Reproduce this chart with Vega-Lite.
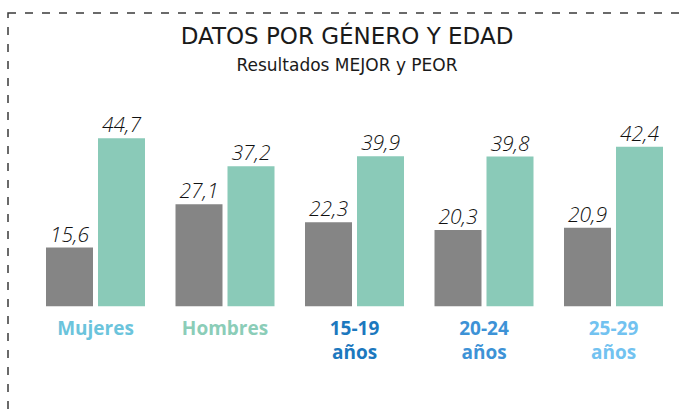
{
  "$schema": "https://vega.github.io/schema/vega-lite/v6.json",
  "width": 678,
  "height": 421,
  "autosize": {"type": "none"},
  "padding": {"left": 8, "top": 13, "right": 0, "bottom": 0},
  "background": "white",
  "title": {
    "text": "DATOS POR GÉNERO Y EDAD",
    "subtitle": "Resultados MEJOR y PEOR",
    "anchor": "middle",
    "offset": -61,
    "font": "DejaVu Sans",
    "fontSize": 23,
    "fontWeight": "normal",
    "color": "#1a1a1a",
    "subtitleFont": "DejaVu Sans",
    "subtitleFontSize": 17,
    "subtitleColor": "#1a1a1a",
    "subtitlePadding": 9
  },
  "config": {
    "view": {"stroke": "#3a3a3a", "strokeWidth": 1.5, "strokeDash": [8, 9]},
    "locale": {"number": {"decimal": ",", "thousands": ".", "grouping": [3], "currency": ["", " €"]}}
  },
  "data": {
    "values": [
      {"grupo": "Mujeres", "serie": "MEJOR", "valor": 15.6},
      {"grupo": "Mujeres", "serie": "PEOR", "valor": 44.7},
      {"grupo": "Hombres", "serie": "MEJOR", "valor": 27.1},
      {"grupo": "Hombres", "serie": "PEOR", "valor": 37.2},
      {"grupo": "15-19 años", "serie": "MEJOR", "valor": 22.3},
      {"grupo": "15-19 años", "serie": "PEOR", "valor": 39.9},
      {"grupo": "20-24 años", "serie": "MEJOR", "valor": 20.3},
      {"grupo": "20-24 años", "serie": "PEOR", "valor": 39.8},
      {"grupo": "25-29 años", "serie": "MEJOR", "valor": 20.9},
      {"grupo": "25-29 años", "serie": "PEOR", "valor": 42.4}
    ]
  },
  "encoding": {
    "x": {
      "field": "grupo",
      "type": "nominal",
      "sort": null,
      "scale": {"paddingInner": 0.2355, "paddingOuter": 0.2355, "align": 0.623},
      "axis": {
        "title": null,
        "orient": "bottom",
        "offset": -128,
        "domain": false,
        "ticks": false,
        "grid": false,
        "labelAngle": 0,
        "labelFont": "Open Sans",
        "labelFontSize": 19,
        "labelFontWeight": "bold",
        "labelPadding": 13,
        "labelLineHeight": 24,
        "labelBaseline": "top",
        "labelExpr": "split(datum.label, ' ')",
        "labelColor": {"expr": "datum.value == 'Mujeres' ? '#6BC4DC' : datum.value == 'Hombres' ? '#8BCDB8' : datum.value == '15-19 años' ? '#1C78BE' : datum.value == '20-24 años' ? '#3D92D6' : '#72C2F0'"}
      }
    },
    "xOffset": {
      "field": "serie",
      "type": "nominal",
      "sort": ["MEJOR", "PEOR"],
      "scale": {"paddingInner": 0.096, "paddingOuter": 0}
    },
    "y": {
      "field": "valor",
      "type": "quantitative",
      "scale": {"domain": [-34, 78], "nice": false, "zero": false},
      "axis": null
    }
  },
  "layer": [
    {
      "mark": {"type": "bar"},
      "encoding": {
        "color": {
          "field": "serie",
          "type": "nominal",
          "scale": {"domain": ["MEJOR", "PEOR"], "range": ["#858585", "#8ACAB8"]},
          "legend": null
        }
      }
    },
    {
      "mark": {"type": "text", "baseline": "alphabetic", "dy": -6, "font": "Open Sans", "fontStyle": "italic", "fontWeight": 300, "fontSize": 21, "color": "#111111"},
      "encoding": {
        "text": {"field": "valor", "type": "quantitative", "format": ".1f"}
      }
    }
  ]
}
